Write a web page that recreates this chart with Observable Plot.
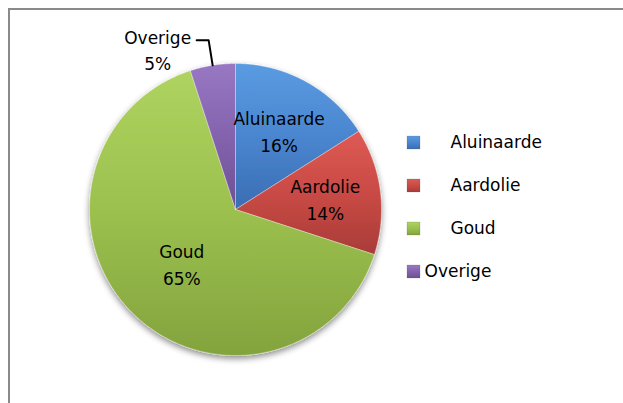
<!DOCTYPE html>
<html><head><meta charset="utf-8">
<script src="https://cdn.jsdelivr.net/npm/d3@7"></script>
<script src="https://cdn.jsdelivr.net/npm/@observablehq/plot@0.6"></script>
<style>
html,body{margin:0;padding:0;background:#fff;}
#wrap{position:relative;width:623px;height:403px;overflow:hidden;background:#fff;}
#frame{position:absolute;left:8px;top:8px;width:700px;height:500px;border:2px solid #8a8a8a;box-sizing:border-box;}
#chart{position:absolute;left:0;top:0;}
</style></head><body>
<div id="wrap"><div id="frame"></div><div id="chart"></div></div>
<script>
const categories = ["Aluinaarde", "Aardolie", "Goud", "Overige"];
const values = [16, 14, 65, 5];
const percentLabels = ["16%", "14%", "65%", "5%"];

// layout (pixels)
const W = 623, H = 403, CX = 235, CY = 209, R = 146;
const px = v => v / R; // pixel length -> unit length

const arcs = d3.pie().sort(null).value(d => d)(values);
const pt = (a, r = 1) => ({x: r * Math.sin(a), y: r * Math.cos(a)});

const slices = [];
arcs.forEach((a, i) => {
  const cat = categories[i];
  slices.push({cat, ...pt(0, 0)});
  const n = Math.max(2, Math.ceil((a.endAngle - a.startAngle) / (Math.PI / 360)));
  for (let k = 0; k <= n; k++) slices.push({cat, ...pt(a.startAngle + (a.endAngle - a.startAngle) * k / n)});
  slices.push({cat, ...pt(0, 0)});
});

const total = d3.sum(values);
const inside = [], outside = [], leaders = [];
arcs.forEach((a, i) => {
  const mid = (a.startAngle + a.endAngle) / 2;
  const frac = values[i] / total;
  const text = categories[i] + "\n" + percentLabels[i];
  if (frac >= 0.08) {
    inside.push({text, ...pt(mid, frac > 0.5 ? 0.52 : 0.62)});
  } else {
    const p0 = pt(mid, 1);
    const p1 = {x: p0.x - px(4), y: p0.y + px(25)};
    const p2 = {x: p1.x - px(12), y: p1.y};
    leaders.push({k: i, ...p0}, {k: i, ...p1}, {k: i, ...p2});
    outside.push({text, x: p2.x - px(39), y: p2.y - px(8.5)});
  }
});

const legend = categories.map((cat, i) => ({
  cat,
  x: px(413 - CX),
  y: px(CY - (142 + 43 * i)),
  tx: px((i < 3 ? 450 : 424) - CX)
}));

const plot = Plot.plot({
  width: W, height: H, margin: 0,
  x: {domain: [px(-CX), px(W - CX)], axis: null},
  y: {domain: [px(-(H - CY)), px(CY)], axis: null},
  color: {domain: categories, range: categories.map((c, i) => `url(#grad${i})`)},
  style: {background: "transparent", fontFamily: "DejaVu Sans", overflow: "visible"},
  marks: [
    Plot.line(slices, {x: "x", y: "y", z: "cat", fill: "cat", stroke: "rgba(255,255,255,0.35)", strokeWidth: 1, curve: "linear"}),
    Plot.line(leaders, {x: "x", y: "y", z: "k", stroke: "black", strokeWidth: 2}),
    Plot.text(inside, {x: "x", y: "y", text: "text", fontSize: 17, lineHeight: 1.55, fill: "black", fontFamily: "DejaVu Sans"}),
    Plot.text(outside, {x: "x", y: "y", text: "text", fontSize: 17, lineHeight: 1.5, fill: "black", fontFamily: "DejaVu Sans"}),
    Plot.dot(legend, {x: "x", y: "y", fill: "cat", symbol: "square", r: 7.3, stroke: "rgba(0,0,0,0.25)", strokeWidth: 0.5}),
    Plot.text(legend, {x: "tx", y: "y", text: "cat", textAnchor: "start", fontSize: 17, fill: "black", fontFamily: "DejaVu Sans"})
  ]
});

const stops = [
  ["#5a9be2", "#4a86cf", "#3a6db3"],
  ["#de5a55", "#c94a45", "#a93c38"],
  ["#aed35f", "#9bc04e", "#83a33d"],
  ["#9878c2", "#8463ae", "#6d5093"]
];
const svgNS = "http://www.w3.org/2000/svg";
const defs = document.createElementNS(svgNS, "defs");
defs.innerHTML = stops.map((s, i) => `
  <linearGradient id="grad${i}" x1="0" y1="0" x2="0" y2="1">
    <stop offset="0" stop-color="${s[0]}"/>
    <stop offset="0.5" stop-color="${s[1]}"/>
    <stop offset="1" stop-color="${s[2]}"/>
  </linearGradient>`).join("") + `
  <filter id="shadow" x="-20%" y="-20%" width="140%" height="140%">
    <feDropShadow dx="0" dy="3" stdDeviation="3" flood-color="#000" flood-opacity="0.45"/>
  </filter>`;
plot.insertBefore(defs, plot.firstChild);
const pieG = plot.querySelector('g[aria-label="line"]');
if (pieG) pieG.setAttribute("filter", "url(#shadow)");
document.getElementById("chart").appendChild(plot);
</script>
</body></html>
